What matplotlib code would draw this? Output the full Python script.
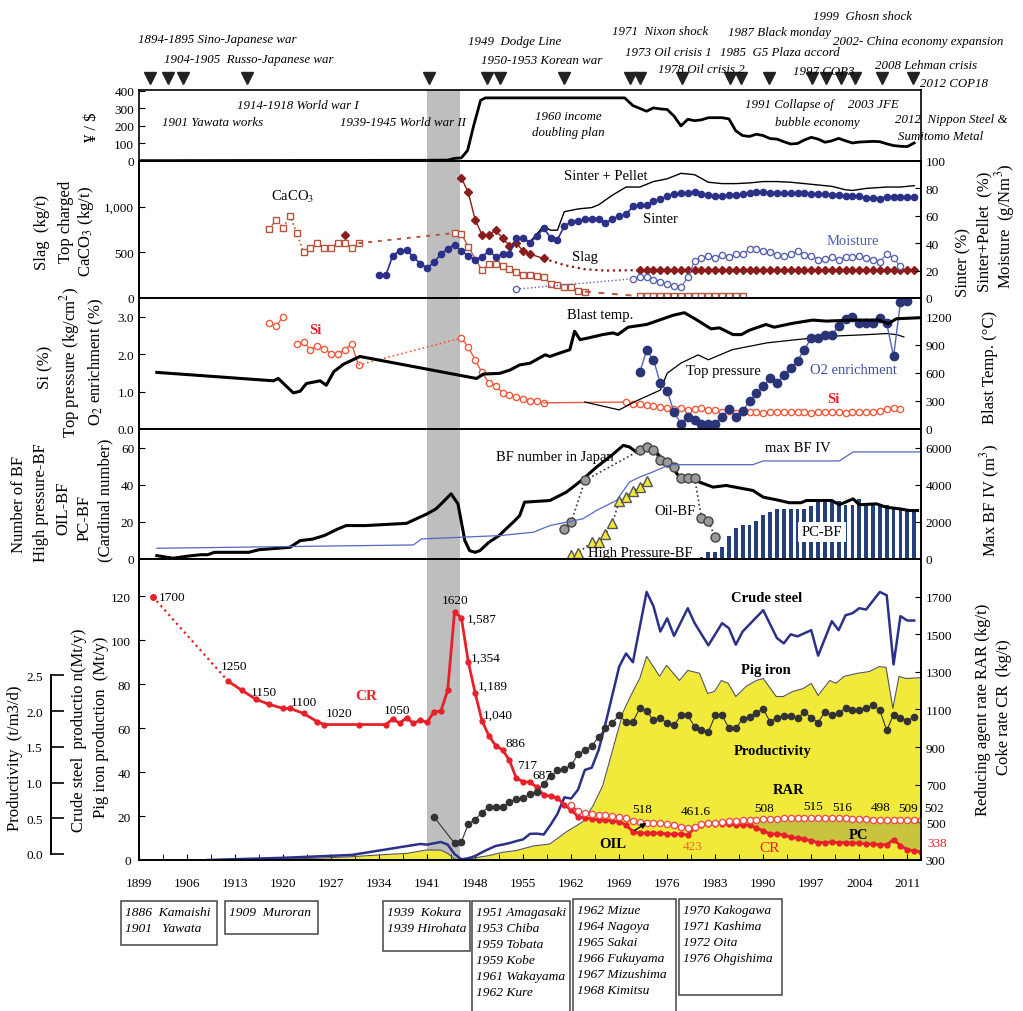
import numpy as np
import matplotlib
matplotlib.use('Agg')
import matplotlib.pyplot as plt
from matplotlib.transforms import blended_transform_factory
from matplotlib.patches import Rectangle
from matplotlib.ticker import FuncFormatter

plt.rcParams['font.family'] = 'Liberation Serif'
plt.rcParams['mathtext.fontset'] = 'stix'

# ---------------- data ----------------
# events (triangle markers above the top panel)
event_years = [1900.6, 1903.3, 1905.4, 1914.8, 1941.3, 1949.7, 1951.6, 1960.9, 1970.6, 1972.0,
               1978.1, 1985.1, 1986.8, 1990.8, 1997.1, 1999.2, 2001.4, 2003.4, 2007.3, 2011.9]

# yen / dollar
fx_years = [1899, 1940, 1944, 1945, 1946, 1946.9, 1947.8, 1948.8, 1949.5, 1969.8] + list(range(1971, 2013))
fx_vals = [2, 4, 5, 15, 18, 60, 203, 346, 360, 360,
           316, 300, 284, 303, 297, 294, 256, 200, 238, 230, 235, 247, 247, 247, 240, 172, 145, 140,
           153, 145, 128, 125, 110, 97, 100, 120, 135, 125, 107, 115, 129, 115, 103, 108, 110, 112,
           110, 98, 88, 84, 82, 103]

# panel 2 : CaCO3, slag (kg/t) ; sinter, sinter+pellet, moisture (right)
caco3_a_years = list(range(1918, 1932))
caco3_a = [759, 855, 767, 903, 711, 500, 544, 600, 552, 552, 600, 600, 552, 600]
caco3_b_years = [1945, 1946, 1947, 1949, 1950, 1951, 1952, 1953, 1954, 1955, 1956, 1957, 1958,
                 1959, 1960, 1961, 1962, 1963, 1964]
caco3_b = [711, 700, 563, 303, 367, 367, 352, 320, 280, 257, 248, 240, 230, 156, 145, 119, 119, 81, 70]
caco3_c_years = list(range(1972, 1988))
caco3_c = [20, 19, 19, 18, 18, 18, 18, 18, 18, 18, 18, 18, 24, 22, 18, 18]

slag_1929 = 685
slag_a_years = [1946, 1947, 1948, 1949, 1950, 1951, 1952, 1953, 1954, 1955, 1956, 1958]
slag_a = [1314, 1156, 859, 692, 692, 740, 655, 574, 600, 515, 480, 433]
slag_gap_years = [1958, 1961, 1964, 1967, 1972]
slag_gap = [433, 360, 315, 300, 305]
slag_b_years = list(range(1972, 2013))
slag_b = [305, 308, 308, 308, 310, 310, 308, 308, 310, 310, 310, 310, 310, 310, 310, 308, 308, 308,
          310, 310, 310, 310, 308, 308, 308, 308, 308, 308, 308, 306, 306, 306, 306, 306, 306, 306,
          306, 306, 306, 306, 306]

sinter_years = list(range(1934, 2013))
sinter = [17, 17, 31, 34.5, 35, 30, 25, 22, 26, 32,
          36, 39, 34, 31, 28, 30, 34.5, 30, 32, 32,
          44, 44, 40.5, 45, 51, 44, 42.5, 52.5, 55.5, 56,
          58, 57.5, 57.5, 54.5, 58, 59.5, 61, 67, 68, 68,
          70.5, 72, 74.5, 76, 76.5, 76.5, 77.5, 76, 75, 74.5,
          74.5, 75, 75.5, 76, 76.5, 77.5, 77.5, 77, 77, 76.5,
          76.5, 76.5, 76.5, 76, 76, 76, 75.5, 75, 74.5, 74.5,
          74.5, 73, 73, 72.5, 74, 74, 74, 73.5, 73.5]
sp_years = [1954, 1956, 1958, 1959, 1960, 1961, 1963, 1965, 1966, 1968, 1970, 1972, 1974, 1976, 1978,
            1980, 1982, 1984, 1986, 1988, 1990, 1992, 1994, 1996, 1998, 2000, 2002, 2003, 2005, 2008,
            2010, 2012]
sinter_pellet = [44, 41, 52.5, 49.5, 49.5, 63, 65, 66, 68, 75, 81, 81, 85, 87, 91, 90, 84.5, 83.5,
                 83.5, 84, 85, 85, 84.5, 83.5, 82.5, 81.5, 79, 78.5, 80, 81, 81, 82]
moist_1954 = 6.5
moist_years = list(range(1971, 2011))
moisture = [14, 15, 15.5, 13.5, 12, 10, 9, 8, 15, 27,
            29.5, 30.5, 29.5, 31.5, 30, 32, 32, 35.5, 35.5, 34.5,
            33.5, 31.5, 30.5, 32, 34, 31.5, 31, 28, 28.5, 30,
            28, 30, 30, 30.5, 29, 27.5, 26.5, 32, 29, 23]

# panel 3 : Si, top pressure, O2 enrichment (left) ; blast temp (right)
si_a_years = [1918, 1919, 1920]
si_a = [2.82, 2.75, 3.0]
si_b_years = list(range(1922, 1932))
si_b = [2.27, 2.32, 2.12, 2.23, 2.14, 2.01, 2.01, 2.12, 2.27, 1.71]
si_c_years = list(range(1946, 1959))
si_c = [2.43, 2.19, 1.85, 1.51, 1.24, 1.15, 0.97, 0.92, 0.85, 0.80, 0.76, 0.76, 0.70]
si_d_years = list(range(1970, 2011))
si_d = [0.72, 0.68, 0.66, 0.63, 0.61, 0.59, 0.57, 0.54, 0.56, 0.52,
        0.54, 0.57, 0.52, 0.50, 0.45, 0.48, 0.43, 0.45, 0.46, 0.45,
        0.44, 0.45, 0.46, 0.45, 0.45, 0.46, 0.45, 0.44, 0.45, 0.46,
        0.45, 0.45, 0.44, 0.45, 0.45, 0.46, 0.45, 0.47, 0.54, 0.56, 0.53]
tp_years = [1964, 1969, 1971.5, 1975, 1976, 1978, 1980.5, 1982, 1985.5, 1990.5, 1995, 2000, 2005,
            2008, 2009.5, 2010.5]
top_pressure = [0.72, 0.51, 0.75, 1.04, 1.49, 1.76, 1.98, 1.85, 2.12, 2.30, 2.39, 2.48, 2.52, 2.55,
                2.52, 2.46]
o2_years = list(range(1972, 2012))
o2 = [1.51, 2.10, 1.85, 1.22, 1.02, 0.45, 0.14, 0.33, 0.24, 0.14,
      0.14, 0.14, 0.33, 0.54, 0.32, 0.48, 0.75, 0.95, 1.14, 1.35,
      1.24, 1.44, 1.62, 1.83, 2.12, 2.43, 2.43, 2.52, 2.52, 2.75,
      2.93, 3.00, 2.82, 2.82, 2.82, 2.97, 2.82, 1.94, 3.38, 3.42]
bt_years = [1901.6, 1918.6, 1919.3, 1921.5, 1922.5, 1923.4, 1925.4, 1926.3, 1927.4, 1928.8, 1931.2,
            1948.2, 1949.2, 1951.6, 1953.1, 1954.5, 1956, 1958.2, 1958.9, 1960.3, 1961.8, 1962.5,
            1963.3, 1964.5, 1966.6, 1968.1, 1968.8, 1970.3, 1973, 1975.4, 1976.8, 1978.5, 1980.2,
            1982.4, 1983.6, 1985.6, 1986.8, 1988, 1990.4, 1991.6, 1994.1, 1997.2, 1999.2, 2003.1,
            2006.9, 2008.2, 2009.4, 2012.8]
blast_temp = [605, 515, 540, 386, 404, 486, 515, 468, 613, 692, 775, 540, 587, 595, 631, 685, 703,
              793, 775, 811, 847, 1045, 955, 973, 1009, 1027, 1009, 1088, 1117, 1178, 1214, 1243,
              1171, 1070, 1081, 1009, 1009, 1056, 1117, 1088, 1127, 1164, 1153, 1164, 1164, 1124,
              1178, 1189]

# panel 4 : blast furnaces
bf_years = [1901.6, 1904, 1906, 1908, 1909, 1910, 1915, 1916.5, 1921, 1922.5,
            1924.3, 1926, 1928, 1929.2, 1932, 1936.5, 1938, 1939.4, 1941, 1942.3,
            1943.3, 1944.5, 1945.5, 1946, 1946.5, 1947.2, 1948, 1948.7, 1950, 1951.5,
            1952.5, 1953.8, 1954.5, 1955.2, 1958.9, 1961.3, 1963.5, 1965.7, 1967.9, 1969.6,
            1970.5, 1971.5, 1973, 1974.4, 1975.4, 1976.8, 1977.8, 1979.8, 1980.7, 1982.7,
            1984.6, 1986.6, 1988.5, 1990, 1991.9, 1993.8, 1995.5, 1996.3, 2000, 2001.1,
            2003.1, 2004, 2006.5, 2007.9, 2009.9, 2011.3, 2012.5]
bf_number = [1.8, 0.4, 1.5, 2.3, 2.3, 3.6, 3.6, 5, 6.3, 9.9,
             10.7, 12.6, 16.2, 18, 18, 18.9, 19.2, 21.6, 24.3, 27,
             30.6, 35.1, 29.7, 19.8, 9.9, 4.5, 3.6, 4.5, 9, 12.6,
             16.2, 20.7, 23.4, 30.6, 31.5, 36, 42.3, 49.5, 55.8, 61.2,
             60.3, 57.6, 59.4, 57.6, 53.1, 49, 44.1, 43.2, 41.4, 38.7,
             39.6, 38.2, 36.9, 33.3, 31.9, 30.3, 30.3, 31.5, 31.5, 29.2,
             32.4, 29.2, 29.7, 27.9, 27, 26.1, 26.1]
oil_years = [1961, 1962, 1964, 1972, 1973, 1974, 1975, 1976, 1977, 1978, 1979, 1980, 1981, 1982, 1983]
oil_bf = [16.2, 19.8, 42.3, 58.5, 60.3, 58.5, 53.1, 52.2, 49.5, 43.6, 43.6, 43.6, 22, 20.2, 11.7]
hp_years = [1962, 1963, 1965, 1966, 1967, 1968, 1969, 1970, 1971, 1972, 1973]
hp_bf = [2.2, 3.2, 9, 9, 13.5, 19.3, 31, 33.3, 36.6, 38.7, 41.8]
pc_years = list(range(1981, 2013))
pc_bf = [1.3, 3.6, 3.6, 6.3, 12.3, 16.6, 18.4, 18.4, 20.2, 23.8, 25.2, 27, 27, 27, 27, 27,
         28.8, 31, 31, 31, 31, 29.2, 29.2, 32.4, 29.2, 29.2, 29.7, 29.2, 27.9, 27.4, 27, 26.1]
iv_years = [1901.6, 1939, 1940.2, 1951.6, 1956.5, 1958.9, 1961.3, 1963.7, 1965.7, 1968.6, 1970.5,
            1972, 1973.9, 1975.9, 1976.8, 1988.5, 1990, 2001.1, 2003.1, 2013]
max_bf_iv = [578, 757, 1081, 1261, 1441, 1802, 1982, 2162, 2613, 3153, 4144, 4414, 4685, 5009,
             5080, 5080, 5279, 5279, 5766, 5766]

# panel 5 : production (Mt/y), productivity, coke rate / RAR (kg/t)
cs_years = [1909, 1920, 1930, 1936, 1940, 1941, 1943, 1944, 1945, 1946,
            1947, 1948, 1949, 1950, 1951, 1952, 1953, 1954, 1955, 1956,
            1957, 1958, 1959, 1960, 1961, 1962, 1963, 1964, 1965, 1966,
            1967, 1968, 1969, 1970, 1971, 1973, 1974, 1975, 1976, 1977,
            1979, 1980, 1982, 1984, 1985, 1986, 1987, 1990, 1992, 1993,
            1994, 1995, 1997, 1998, 2000, 2001, 2002, 2003, 2004, 2005,
            2007, 2008, 2009, 2010, 2011, 2012]
crude_steel = [0, 1, 2.3, 5.3, 7.3, 7, 8.2, 7, 2.7, 0.3,
               0.8, 1.8, 3.5, 5, 6.4, 7, 7.7, 8.6, 9.4, 11.9,
               12, 11.6, 16, 21, 28.5, 28, 32, 41, 42, 50,
               62, 75, 88, 94, 90, 122, 115.5, 104, 110, 102,
               114.6, 107.8, 97.7, 107.8, 105.5, 98, 104, 113.7, 101, 98.6,
               102.7, 101.8, 104.6, 93, 108.7, 104.6, 111.4, 112.3, 114.6, 114,
               122, 120.5, 89, 111, 109, 109]
pig_years = [1909, 1915, 1920, 1925, 1930, 1935, 1938, 1941, 1943, 1944,
             1945, 1946, 1947, 1948, 1950, 1952, 1954, 1956.5, 1958.9, 1961.3,
             1963.7, 1965.2, 1966.6, 1968.1, 1969.6, 1971, 1972, 1973, 1974.9, 1975.9,
             1977.8, 1979, 1980.7, 1981.9, 1982.9, 1983.9, 1984.9, 1986, 1987.5, 1989,
             1990, 1991.9, 1992.9, 1994.3, 1995.8, 1997, 1998, 1999.7, 2000.6, 2001.8,
             2003.8, 2005.5, 2006.9, 2007.9, 2008.9, 2009.8, 2010.8, 2013]
pig_iron = [0, 0.3, 0.5, 0.8, 1.5, 2.5, 3, 4.6, 4.5, 3,
            0.5, 0.1, 0.3, 1, 2, 3.5, 4.3, 6.4, 7.3, 12.8,
            17.4, 24.7, 33.8, 50.7, 67.6, 76.7, 82.6, 92.7, 83.6, 88.6,
            81.7, 86.3, 85, 75.8, 76.7, 81.7, 80.4, 74.4, 79, 81.7,
            82.6, 74.4, 74.4, 76.7, 78, 80.4, 74.9, 81.7, 80.4, 83.6,
            85, 85.8, 88, 87.7, 69, 83.6, 82.6, 83]
prod_years = [1942] + list(range(1945, 2013))
productivity = [0.52, 0.15, 0.17, 0.42, 0.48, 0.58, 0.66, 0.66,
                0.66, 0.73, 0.77, 0.78, 0.84, 0.87, 0.98, 1.09, 1.17, 1.19,
                1.24, 1.40, 1.45, 1.51, 1.64, 1.76, 1.84, 1.94, 1.85, 1.85,
                2.04, 2.00, 1.87, 1.90, 1.83, 1.80, 1.94, 1.94, 1.78, 1.73,
                1.71, 1.94, 1.94, 1.76, 1.76, 1.89, 1.92, 1.98, 2.03, 1.85,
                1.91, 1.93, 1.93, 1.90, 1.99, 1.91, 1.84, 1.99, 1.95, 1.97,
                2.04, 2.02, 2.02, 2.04, 2.08, 2.01, 1.73, 1.95, 1.91, 1.86, 1.92]
cr_dotted_years = [1901, 1912]
cr_dotted = [1700, 1250]
cr_years = [1912, 1914, 1916, 1918, 1920, 1921, 1923, 1925, 1926, 1931, 1935, 1936, 1937, 1938,
            1939, 1940, 1941, 1942, 1943, 1944] + list(range(1945, 2014))
coke_rate = [1250, 1202, 1155, 1127, 1106, 1106, 1079, 1035, 1020, 1020, 1020, 1050, 1026, 1057,
             1026, 1044, 1031, 1088, 1091, 1202,
             1620, 1587, 1354, 1189, 1040, 961, 908, 886, 830, 735,
             717, 713, 687, 645, 640, 630, 593, 566, 531, 523,
             519, 513, 513, 508, 504, 486, 451, 443, 443, 443,
             443, 438, 438, 438, 434, 470, 488, 492, 494, 494,
             491, 487, 487, 487, 470, 455, 438, 438, 434, 420,
             417, 411, 402, 393, 393, 395, 393, 393, 390, 390,
             385, 385, 381, 381, 408, 377, 355, 349, 343]
rar_years = list(range(1962, 2014))
rar = [590, 560, 552, 546, 541, 537, 533, 527, 522, 508,
       500, 497, 499, 498, 491, 487, 477, 470, 478, 490,
       497, 499, 502, 505, 508, 510, 512, 514, 516, 517,
       520, 521, 521, 522, 524, 525, 524, 522, 521, 521,
       521, 519, 518, 517, 515, 514, 513, 513, 513, 512,
       511, 510]
pc_start = 1988

# ---------------- figure ----------------
W_PX, H_PX = 1023, 1012
X0, X1 = 139, 921
fig = plt.figure(figsize=(W_PX / 100, H_PX / 100), dpi=100)


def T(x, y, s, **kw):
    kw.setdefault('ha', 'center')
    kw.setdefault('va', 'center')
    return fig.text(x / W_PX, 1 - y / H_PX, s, **kw)


def panel(top, bot):
    ax = fig.add_axes([X0 / W_PX, 1 - bot / H_PX, (X1 - X0) / W_PX, (bot - top) / H_PX])
    ax.set_xlim(1899, 2013)
    ax.axvspan(1941, 1945.8, color='#BEBEBE', lw=0, zorder=0)
    for sp in ax.spines.values():
        sp.set_linewidth(1.2)
    ax.tick_params(direction='in', labelsize=9.5, length=4, width=0.8)
    return ax


def twin(ax):
    axr = ax.twinx()
    axr.tick_params(direction='in', labelsize=9.5, length=4, width=0.8)
    for sp in axr.spines.values():
        sp.set_linewidth(1.2)
    return axr


NAVY = '#2B3188'
RED = '#E8202A'
BROWN = '#B5533C'
DARKRED = '#8B1C1C'
YELLOW = '#F1EA3A'

# ---- panel 1 : exchange rate
ax1 = panel(91, 162)
ax1.set_ylim(0, 405)
ax1.set_yticks([0, 100, 200, 300, 400])
ax1.set_xticks([])
ax1.plot(fx_years, fx_vals, color='black', lw=2)
tr = blended_transform_factory(ax1.transData, ax1.transAxes)
ax1.plot(event_years, [1.17] * len(event_years), 'v', color='#222222', ms=8,
         transform=tr, clip_on=False)

# ---- panel 2
ax2 = panel(162, 299)
ax2.set_ylim(0, 1500)
ax2.set_yticks([0, 500, 1000])
ax2.yaxis.set_major_formatter(FuncFormatter(lambda v, p: f'{int(v):,}'))
ax2.set_xticks([])
ax2.plot(caco3_a_years, caco3_a, ls=':', color=BROWN, lw=1.2, marker='s', mfc='white',
         mec=BROWN, ms=5, mew=1)
ax2.plot([caco3_a_years[-1], caco3_b_years[0]], [caco3_a[-1], caco3_b[0]], ls=(0, (2, 3)),
         color=BROWN, lw=1.4)
ax2.plot(caco3_b_years, caco3_b, color=BROWN, lw=0.9, marker='s', mfc='white', mec=BROWN, ms=5,
         mew=1)
ax2.plot([caco3_b_years[-1], caco3_c_years[0]], [caco3_b[-1], caco3_c[0]], ls=(0, (3, 4)),
         color=BROWN, lw=1.4)
ax2.plot(caco3_c_years, caco3_c, color=BROWN, lw=0.9, marker='s', mfc='white', mec=BROWN, ms=5,
         mew=1)
ax2.plot([1929], [slag_1929], 'D', color=DARKRED, ms=4)
ax2.plot(slag_a_years, slag_a, color=DARKRED, lw=1, marker='D', ms=4)
ax2.plot(slag_gap_years, slag_gap, ls=':', color=DARKRED, lw=1.6)
ax2.plot(slag_b_years, slag_b, color=DARKRED, lw=1, marker='D', ms=4)

ax2r = twin(ax2)
ax2r.set_ylim(0, 100)
ax2r.set_yticks([0, 20, 40, 60, 80, 100])
ax2r.plot(sp_years, sinter_pellet, color='black', lw=1)
ax2r.plot(sinter_years, sinter, color=NAVY, lw=1.2, marker='o', ms=4.5)
ax2r.plot([1954, moist_years[0]], [moist_1954, moisture[0]], ls=':', color='#5A63B0', lw=1)
ax2r.plot([1954], [moist_1954], 'o', mfc='white', mec='#5A63B0', ms=4.5)
ax2r.plot(moist_years, moisture, color='#5A63B0', lw=0.8, marker='o', mfc='white',
          mec='#5A63B0', ms=4.5)

# ---- panel 3
ax3 = panel(299, 430)
ax3.set_ylim(0, 3.5)
ax3.set_yticks([0, 1, 2, 3])
ax3.yaxis.set_major_formatter(FuncFormatter(lambda v, p: f'{v:.1f}'))
ax3.set_xticks([])
si_kw = dict(color='#F05A3C', lw=1, marker='o', mfc='white', mec='#F05A3C', ms=4.5, mew=1)
ax3.plot(si_a_years, si_a, **si_kw)
ax3.plot(si_b_years, si_b, **si_kw)
ax3.plot([si_b_years[-1], si_c_years[0]], [si_b[-1], si_c[0]], ls=':', color='#F05A3C', lw=1.2)
ax3.plot(si_c_years, si_c, **si_kw)
ax3.plot([si_c_years[-1], si_d_years[0]], [si_c[-1], si_d[0]], color='#F05A3C', lw=1)
ax3.plot(si_d_years, si_d, **si_kw)
ax3.plot(tp_years, top_pressure, color='black', lw=0.9)
ax3.plot(o2_years, o2, color='#5563B5', lw=1, marker='o', mfc='#2A3577', mec='#2A3577', ms=6)
ax3r = twin(ax3)
ax3r.set_ylim(0, 1400)
ax3r.set_yticks([0, 300, 600, 900, 1200])
ax3r.plot(bt_years, blast_temp, color='black', lw=2.2)

# ---- panel 4
ax4 = panel(430, 560)
ax4.set_ylim(0, 70)
ax4.set_yticks([0, 20, 40, 60])
ax4.set_xticks([])
ax4.bar(pc_years, pc_bf, width=0.55, color='#23407C', zorder=2)
ax4.plot(bf_years, bf_number, color='black', lw=2.2, zorder=3)
ax4.plot(oil_years, oil_bf, ls=':', color='#333333', lw=1.2, marker='o', mfc='#9A9A9A',
         mec='#444444', ms=6.5, zorder=4)
ax4.plot(hp_years, hp_bf, ls=':', color='#333333', lw=1.2, marker='^', mfc='#F2E936',
         mec='#555555', ms=6.5, zorder=4)
ax4r = twin(ax4)
ax4r.set_ylim(0, 7000)
ax4r.set_yticks([0, 2000, 4000, 6000])
ax4r.plot(iv_years, max_bf_iv, color='#5468C4', lw=0.9)

# ---- panel 5
ax5 = panel(560, 861)
ax5.set_ylim(0, 137)
ax5.set_yticks([0, 20, 40, 60, 80, 100, 120])
ax5.tick_params(axis='y', pad=6)
ax5.set_xticks(list(range(1899, 2012, 7)))
ax5.set_xticks(list(np.arange(1902.5, 2013, 7)), minor=True)
ax5.tick_params(axis='x', which='both', direction='in', length=4, labelsize=9.5, pad=12)
ax5.fill_between(pig_years, pig_iron, 0, color=YELLOW, lw=0, zorder=1)
ax5.plot(pig_years, pig_iron, color='#555555', lw=0.8, zorder=2)
ax5.plot(cs_years, crude_steel, color=NAVY, lw=1.8, zorder=3)

ax5r = twin(ax5)
ax5r.set_ylim(300, 1900)
ax5r.set_yticks([300, 500, 700, 900, 1100, 1300, 1500, 1700])
pc_cr = [v for y, v in zip(cr_years, coke_rate) if y >= pc_start]
pc_rar = [v for y, v in zip(rar_years, rar) if y >= pc_start]
pc_x = [y for y in rar_years if y >= pc_start]
ax5r.fill_between(pc_x, pc_cr, pc_rar, color='#C9C43D', lw=0)
ax5r.plot(cr_dotted_years, cr_dotted, ls=':', color=RED, lw=1.6)
ax5r.plot([cr_dotted_years[0]], [cr_dotted[0]], 'o', color=RED, ms=4)
ax5r.plot(cr_years, coke_rate, color=RED, lw=2, marker='o', ms=3.5)
ax5r.plot(rar_years, rar, color=RED, lw=1.2, marker='o', mfc='white', mec='#E85050', ms=4.5,
          mew=1)

ax5p = ax5.twinx()
ax5p.set_ylim(-6 / 71.2, 294 / 71.2)
for s in ['right', 'top', 'bottom']:
    ax5p.spines[s].set_visible(False)
ax5p.yaxis.tick_left()
ax5p.spines['left'].set_visible(True)
ax5p.spines['left'].set_position(('axes', (51 - X0) / (X1 - X0)))
ax5p.spines['left'].set_bounds(0, 2.5)
ax5p.spines['left'].set_linewidth(1.4)
ax5p.set_yticks([0, 0.5, 1.0, 1.5, 2.0, 2.5])
ax5p.yaxis.set_major_formatter(FuncFormatter(lambda v, p: f'{v:.1f}'))
ax5p.tick_params(direction='in', length=9, width=1.2, labelsize=9.5, pad=6)
ax5p.plot(prod_years, productivity, color='#333333', lw=0.8, marker='o', ms=4.5)

# ---------------- texts ----------------
ev = dict(ha='left', style='italic', fontsize=9.3)
for s, x, y in [('1894-1895 Sino-Japanese war', 138, 40),
                ('1904-1905  Russo-Japanese war', 164, 60),
                ('1949  Dodge Line', 468, 42),
                ('1950-1953 Korean war', 481, 61),
                ('1971  Nixon shock', 612, 32),
                ('1973 Oil crisis 1', 625, 53),
                ('1978 Oil crisis 2', 658, 70),
                ('1985  G5 Plaza accord', 720, 53),
                ('1987 Black monday', 728, 33),
                ('1999  Ghosn shock', 813, 17),
                ('2002- China economy expansion', 833, 42),
                ('1997 COP3', 793, 72),
                ('2008 Lehman crisis', 875, 66),
                ('2012 COP18', 920, 84),
                ('1914-1918 World war I', 237, 106),
                ('1901 Yawata works', 162, 123),
                ('1939-1945 World war II', 340, 123),
                ('1991 Collapse of', 745, 105),
                ('2003 JFE', 848, 105),
                ('2012  Nippon Steel &', 895, 120),
                ('Sumitomo Metal', 898, 137)]:
    T(x, y, s, **ev)
T(568, 117, '1960 income', style='italic', fontsize=9.3)
T(568, 133, 'doubling plan', style='italic', fontsize=9.3)
T(817, 123, 'bubble economy', style='italic', fontsize=9.3)

# left axis titles
lab = dict(rotation=90, fontsize=12)
T(92, 127, '¥ / $', **lab)
T(42, 232, 'Slag  (kg/t)', **lab)
T(66, 222, 'Top charged', **lab)
T(86, 232, 'CaCO$_3$ (kg/t)', **lab)
T(45, 367, 'Si (%)', **lab)
T(70, 362, 'Top pressure (kg/cm$^2$)', **lab)
T(96, 362, 'O$_2$ enrichment (%)', **lab)
T(19, 504, 'Number of BF', **lab)
T(41, 503, 'High pressure-BF', **lab)
T(63, 508, 'OIL-BF', **lab)
T(85, 518, 'PC-BF', **lab)
T(105, 500, '(Cardinal number)', **lab)
T(15, 758, 'Productivity  (t/m3/d)', **lab)
T(79, 730, 'Crude steel  productio n(Mt/y)', **lab)
T(101, 727, 'Pig iron production  (Mt/y)', **lab)
# right axis titles
T(963, 263, 'Sinter (%)', **lab)
T(984, 232, 'Sinter+Pellet  (%)', **lab)
T(1005, 226, 'Moisture  (g/Nm$^3$)', **lab)
T(990, 367, 'Blast Temp. (°C)', **lab)
T(990, 500, 'Max BF IV (m$^3$)', **lab)
T(983, 710, 'Reducing agent rate RAR (kg/t)', **lab)
T(1004, 707, 'Coke rate CR  (kg/t)', **lab)

# panel annotations
T(293, 197, 'CaCO$_3$', fontsize=10.5)
T(606, 177, 'Sinter + Pellet', fontsize=10.5)
T(660, 220, 'Sinter', fontsize=10.5)
T(585, 257, 'Slag', fontsize=10.5)
T(853, 242, 'Moisture', fontsize=10.5, color='#4F5FB3')
T(315, 330, 'Si', fontsize=10.5, color=RED, weight='bold')
T(600, 315, 'Blast temp.', fontsize=10.5)
T(723, 372, 'Top pressure', fontsize=10.5)
T(853, 371, 'O2 enrichment', fontsize=10.5, color='#3F4E9E')
T(833, 400, 'Si', fontsize=10.5, color=RED, weight='bold')
T(555, 458, 'BF number in Japan', fontsize=10.5)
T(798, 448, 'max BF IV', fontsize=10.5)
T(675, 512, 'Oil-BF', fontsize=10.5)
T(640, 554, 'High Pressure-BF', fontsize=10.5)
T(822, 533, 'PC-BF', fontsize=10.5,
  bbox=dict(boxstyle='square,pad=0.25', fc='white', ec='none'))

num = dict(fontsize=9.5)
for s, x, y in [('1700', 172, 598), ('1250', 234, 667), ('1150', 264, 693), ('1100', 304, 703),
                ('1020', 339, 714), ('1050', 397, 711), ('1620', 455, 601), ('1,587', 482, 620),
                ('1,354', 486, 659), ('1,189', 493, 687), ('1,040', 498, 716), ('886', 515, 744),
                ('717', 527, 766), ('687', 542, 776), ('518', 642, 810), ('461.6', 696, 812),
                ('508', 764, 809), ('515', 813, 807), ('516', 842, 808), ('498', 881, 808),
                ('509', 908, 809), ('502', 934, 809)]:
    T(x, y, s, **num)
T(693, 847, '423', fontsize=9.5, color='#F26B2A')
T(937, 844, '338', fontsize=9.5, color=RED)
T(366, 697, 'CR', fontsize=11, color=RED, weight='bold')
T(770, 849, 'CR', fontsize=11, color=RED)
T(767, 598, 'Crude steel', fontsize=10.5, weight='bold')
T(766, 671, 'Pig iron', fontsize=10.5, weight='bold')
T(773, 752, 'Productivity', fontsize=10.5, weight='bold')
T(789, 791, 'RAR', fontsize=10.5, weight='bold')
T(858, 836, 'PC', fontsize=10.5, weight='bold')
ax5r.annotate('OIL', xy=(1973, 497), xytext=(613 / W_PX, 1 - 845 / H_PX),
              textcoords='figure fraction', ha='center', va='center', fontsize=10.5,
              weight='bold', arrowprops=dict(arrowstyle='-|>', color='black', lw=1,
                                             shrinkA=6, shrinkB=0, mutation_scale=8))

# works boxes under the time axis
works = [('1886  Kamaishi\n1901   Yawata', 121, 902, 217, 946),
         ('1909  Muroran', 225, 902, 318, 935),
         ('1939  Kokura\n1939 Hirohata', 383, 902, 470, 952),
         ('1951 Amagasaki\n1953 Chiba\n1959 Tobata\n1959 Kobe\n1961 Wakayama\n1962 Kure',
          472, 902, 570, 1020),
         ('1962 Mizue\n1964 Nagoya\n1965 Sakai\n1966 Fukuyama\n1967 Mizushima\n1968 Kimitsu',
          573, 900, 676, 1020),
         ('1970 Kakogawa\n1971 Kashima\n1972 Oita\n1976 Ohgishima', 679, 900, 782, 996)]
for s, x0, y0, x1, y1 in works:
    fig.patches.append(Rectangle((x0 / W_PX, 1 - y1 / H_PX), (x1 - x0) / W_PX, (y1 - y0) / H_PX,
                                 transform=fig.transFigure, fill=False, ec='#444444', lw=1.1))
    T(x0 + 4, y0 + 5, s, ha='left', va='top', style='italic', fontsize=9.7, linespacing=1.45)

fig.savefig('out.png', dpi=100)
